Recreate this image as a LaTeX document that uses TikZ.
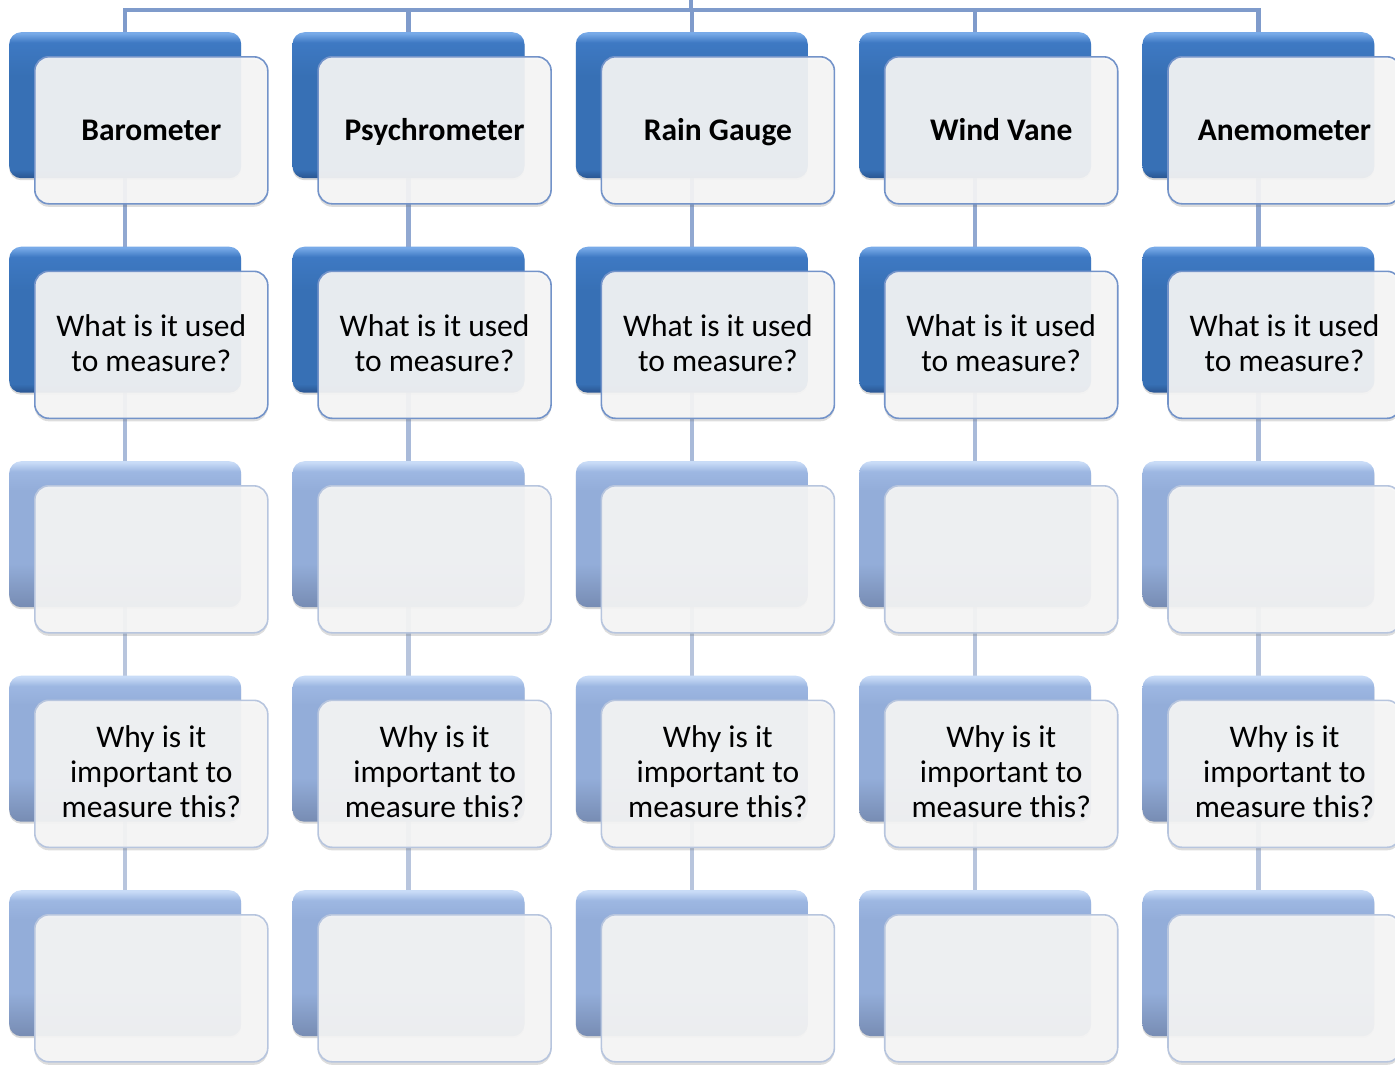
\documentclass[tikz,border=0pt]{standalone}
\usepackage{fontspec}
\setmainfont{Carlito}
\usetikzlibrary{backgrounds,shadows}
\definecolor{connA}{HTML}{7F9BCB}
\definecolor{connB}{HTML}{91A8D1}
\definecolor{connC}{HTML}{A9BAD9}
\definecolor{connD}{HTML}{B8C5DD}
\definecolor{dkA}{HTML}{2A5591}
\definecolor{dkB}{HTML}{3770B5}
\definecolor{dkC}{HTML}{3E79C3}
\definecolor{dkD}{HTML}{78AAE8}
\definecolor{ltA}{HTML}{778CB3}
\definecolor{ltB}{HTML}{93ADD9}
\definecolor{ltC}{HTML}{9DB7E2}
\definecolor{ltD}{HTML}{C9DCF7}
\definecolor{frontfill}{HTML}{F6F6F6}
\definecolor{bordk}{HTML}{7393C9}
\definecolor{borlt}{HTML}{B7C5DE}
\pgfdeclareverticalshading{dkshade}{100bp}{color(0bp)=(dkA); color(25bp)=(dkA); color(28bp)=(dkB); color(60bp)=(dkB); color(71.5bp)=(dkC); color(74.6bp)=(dkD); color(100bp)=(dkD)}
\pgfdeclareverticalshading{ltshade}{100bp}{color(0bp)=(ltA); color(25bp)=(ltA); color(40bp)=(ltB); color(65bp)=(ltB); color(71.5bp)=(ltC); color(74.6bp)=(ltD); color(100bp)=(ltD)}
\newcommand{\lowfix}{\rule[-4pt]{0pt}{4pt}}
\tikzset{
  backbox/.style={rounded corners=12pt, minimum width=232pt, minimum height=146pt,
    anchor=north west, inner sep=0pt, shade,
    drop shadow={shadow xshift=0pt, shadow yshift=-2pt, opacity=0.25, fill=black!60}},
  backdark/.style={backbox, shading=dkshade},
  backlight/.style={backbox, shading=ltshade},
  frontbox/.style={rounded corners=14pt, minimum width=233pt, minimum height=147pt,
    anchor=north west, inner sep=0pt, fill=frontfill, fill opacity=0.92, text opacity=1,
    line width=1.6pt, align=center, text=black,
    font=\fontsize{31.5}{35}\selectfont,
    drop shadow={shadow xshift=0pt, shadow yshift=-3pt, opacity=0.22, fill=black!60}},
  frontdark/.style={frontbox, draw=bordk},
  frontlight/.style={frontbox, draw=borlt},
  titlebox/.style={frontdark, text height=22.5pt, text depth=2.5pt},
  connline/.style={line width=4.5pt},
}
\begin{document}
\begin{tikzpicture}[x=1pt, y=-1pt]
\useasboundingbox (0,0) rectangle (1395,1066);
\foreach \c/\t in {1/Barometer,2/Psychrometer,3/Rain Gauge,4/Wind Vane,5/Anemometer} {
  \pgfmathsetmacro\x{9+283.3*(\c-1)}
  % row 1
  \node[backdark] (b\c-1) at (\x,32) {};
  \node[titlebox] (f\c-1) at (\x+25,56) {\textbf{\t}};
  % row 2
  \node[backdark] (b\c-2) at (\x,246.5) {};
  \node[frontdark] (f\c-2) at (\x+25,270.5) {What is it used\\to measure?\lowfix};
  % row 3
  \node[backlight] (b\c-3) at (\x,461) {};
  \node[frontlight] (f\c-3) at (\x+25,485) {};
  % row 4
  \node[backlight] (b\c-4) at (\x,675.5) {};
  \node[frontlight] (f\c-4) at (\x+25,699.5) {Why is it\\important to\\measure this?\lowfix};
  % row 5
  \node[backlight] (b\c-5) at (\x,890) {};
  \node[frontlight] (f\c-5) at (\x+25,914) {};
}
\coordinate (root) at (691,0);
\coordinate (bus) at (691,10);
\begin{scope}[on background layer]
  \foreach \c in {1,...,5} {
    \draw[connline, connA] (root) -- (bus) -| (b\c-1.center);
    \draw[connline, connB] (b\c-1.center) -- (b\c-2.center);
    \draw[connline, connC] (b\c-2.center) -- (b\c-3.center);
    \draw[connline, connD] (b\c-3.center) -- (b\c-4.center);
    \draw[connline, connD] (b\c-4.center) -- (b\c-5.center);
  }
\end{scope}
\end{tikzpicture}
\end{document}
